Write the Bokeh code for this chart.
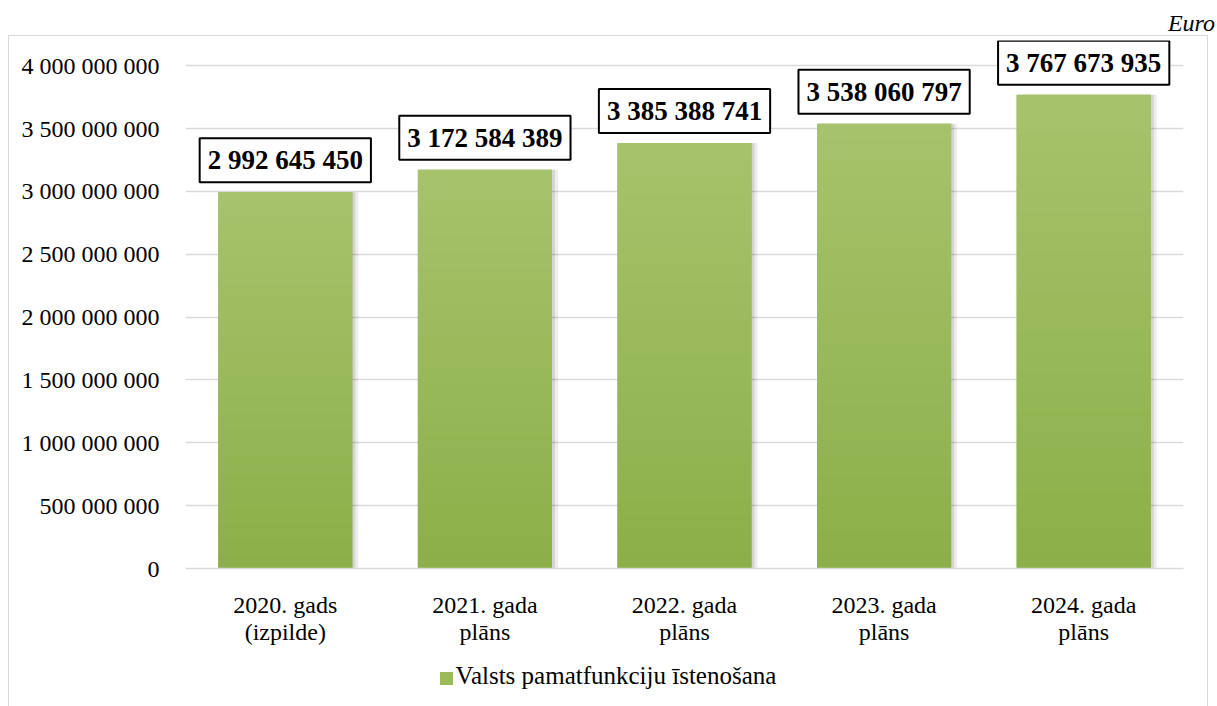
from bokeh.plotting import figure
from bokeh.layouts import column
from bokeh.models import (Range1d, FactorRange, Label, Div,
                          FixedTicker, ColumnDataSource)
from bokeh.transform import dodge
from bokeh.embed import file_html
from bokeh.resources import INLINE

# ---- data ----
categories = ["2020. gads\n(izpilde)", "2021. gada\nplāns", "2022. gada\nplāns",
              "2023. gada\nplāns", "2024. gada\nplāns"]
values = [2992645450, 3172584389, 3385388741, 3538060797, 3767673935]
series_name = "Valsts pamatfunkciju īstenošana"
unit_label = "Euro"
y_ticks = [0, 500000000, 1000000000, 1500000000, 2000000000, 2500000000,
           3000000000, 3500000000, 4000000000]
y_tick_labels = ["0", "500 000 000", "1 000 000 000", "1 500 000 000",
                 "2 000 000 000", "2 500 000 000", "3 000 000 000",
                 "3 500 000 000", "4 000 000 000"]

FONT = "Liberation Serif"
BAR_COLOR = "#9bbb59"
BORDER = "1px solid #d9d9d9"
W = 1200

unit_div = Div(text=unit_label, width=1202, height=25,
               styles={"font-family": FONT, "font-style": "italic",
                       "font-size": "24px", "text-align": "right",
                       "line-height": "36px", "color": "black"})

p = figure(x_range=FactorRange(*categories), y_range=Range1d(0, 4.2e9),
           width=W, height=611, output_backend="svg", toolbar_location=None,
           min_border_left=176, min_border_right=26, min_border_top=4,
           min_border_bottom=74,
           styles={"border-top": BORDER, "border-left": BORDER,
                   "border-right": BORDER, "box-sizing": "border-box"})
p.outline_line_color = None
p.background_fill_color = "white"
p.border_fill_color = "white"

# shadows
src = ColumnDataSource(dict(cat=categories, top=values))
p.vbar(x=dodge("cat", 0.03, range=p.x_range), top="top", width=0.672, source=src,
       fill_color="#000000", fill_alpha=0.07, line_color=None)
p.vbar(x=dodge("cat", 0.015, range=p.x_range), top="top", width=0.672, source=src,
       fill_color="#000000", fill_alpha=0.10, line_color=None)

p.vbar(x="cat", top="top", width=0.672, source=src,
       fill_color=BAR_COLOR, line_color=None)

# vertical gradient slices
n = 24
c_top = (167, 195, 108)
c_bot = (139, 175, 72)
for i in range(n):
    f = (i + 0.5) / n
    col = tuple(int(round(c_bot[k] + (c_top[k] - c_bot[k]) * f)) for k in range(3))
    p.vbar(x=categories, bottom=[v * i / n for v in values],
           top=[v * (i + 1) / n for v in values], width=0.672,
           fill_color="#%02x%02x%02x" % col, line_color=None)

# value labels (categorical positions: factor i sits at i + 0.5)
for i, v in enumerate(values):
    p.add_layout(Label(x=i + 0.5, y=v, y_offset=10, text=f"{v:,}".replace(",", " "),
                       text_align="center", text_baseline="bottom",
                       text_font=FONT, text_font_size="27px", text_font_style="bold",
                       text_color="black", background_fill_color="white",
                       border_line_color="black", border_line_width=2,
                       padding=(8, 7)))

# axes
p.yaxis.ticker = FixedTicker(ticks=y_ticks)
p.yaxis.major_label_overrides = {t: l for t, l in zip(y_ticks, y_tick_labels)}
p.yaxis.axis_line_color = None
p.yaxis.major_tick_line_color = None
p.yaxis.minor_tick_line_color = None
p.yaxis.major_label_standoff = 20
p.yaxis.major_label_text_font = FONT
p.yaxis.major_label_text_font_size = "24px"
p.yaxis.major_label_text_color = "#000000"

p.xaxis.axis_line_color = "#d9d9d9"
p.xaxis.axis_line_width = 1.5
p.xaxis.major_tick_line_color = None
p.xaxis.minor_tick_line_color = None
p.xaxis.major_label_standoff = 17
p.xaxis.major_label_text_font = FONT
p.xaxis.major_label_text_font_size = "24px"
p.xaxis.major_label_text_color = "#000000"
p.xaxis.major_label_text_line_height = 1.05

p.xgrid.grid_line_color = None
p.ygrid.grid_line_color = "#d9d9d9"
p.ygrid.grid_line_width = 1.5
p.ygrid.ticker = FixedTicker(ticks=y_ticks)

# legend strip below the chart
legend_html = (
    f'<span style="display:inline-block;width:13px;height:13px;'
    f'background:{BAR_COLOR};margin-right:3px;vertical-align:-1px"></span>'
    f'{series_name}'
)
legend_div = Div(text=legend_html, width=W, height=60, margin=0,
                 styles={"font-family": FONT, "font-size": "25px",
                         "text-align": "center", "line-height": "60px",
                         "color": "black", "border-left": BORDER,
                         "border-right": BORDER, "box-sizing": "border-box",
                         "background": "white"})

layout = column(unit_div, p, legend_div, spacing=0, margin=(0, 0, 0, 8))
open("out.html", "w").write(file_html(layout, INLINE))
